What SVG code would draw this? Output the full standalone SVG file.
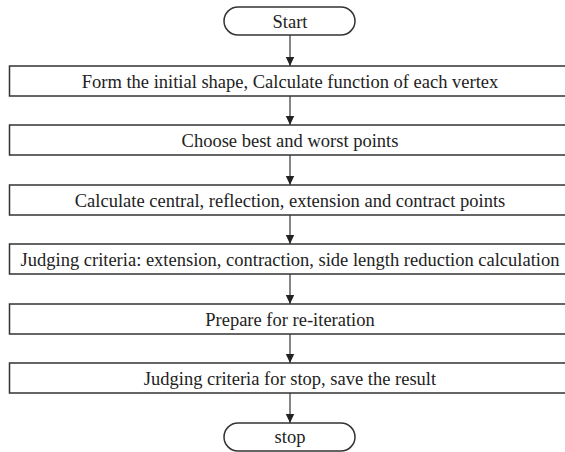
<svg xmlns="http://www.w3.org/2000/svg" width="565" height="452" viewBox="0 0 565 452">
<style>
.box{fill:#fff;stroke:#333;stroke-width:1.5}
.t{font-family:"Liberation Serif","Times New Roman",serif;font-size:18.5px;fill:#222;text-anchor:middle}
.c{stroke:#444;stroke-width:1.3;fill:none;marker-end:url(#ah)}
</style>
<defs>
<marker id="ah" markerWidth="10" markerHeight="10" refX="9" refY="5" orient="auto" markerUnits="userSpaceOnUse">
<path d="M0,0.8 L9,5 L0,9.2 Z" fill="#222"/>
</marker>
</defs>
<rect width="565" height="452" fill="#fff"/>
<g id="connectors">
<line class="c" x1="290" y1="35" x2="290" y2="66"/>
<line class="c" x1="290" y1="96" x2="290" y2="125"/>
<line class="c" x1="290" y1="155" x2="290" y2="185"/>
<line class="c" x1="290" y1="215" x2="290" y2="244"/>
<line class="c" x1="290" y1="274" x2="290" y2="304"/>
<line class="c" x1="290" y1="334" x2="290" y2="363"/>
<line class="c" x1="290" y1="393" x2="290" y2="423"/>
</g>
<g id="start">
<rect class="box" x="224" y="7" width="131" height="28" rx="14"/>
<text class="t" x="290" y="27.5">Start</text>
</g>
<g id="step1">
<rect class="box" x="9.5" y="66" width="561" height="30"/>
<text class="t" x="290" y="88">Form the initial shape, Calculate function of each vertex</text>
</g>
<g id="step2">
<rect class="box" x="9.5" y="125" width="561" height="30"/>
<text class="t" x="290" y="147">Choose best and worst points</text>
</g>
<g id="step3">
<rect class="box" x="9.5" y="185" width="561" height="30"/>
<text class="t" x="290" y="207">Calculate central, reflection, extension and contract points</text>
</g>
<g id="step4">
<rect class="box" x="9.5" y="244" width="561" height="30"/>
<text class="t" x="290" y="266">Judging criteria: extension, contraction, side length reduction calculation</text>
</g>
<g id="step5">
<rect class="box" x="9.5" y="304" width="561" height="30"/>
<text class="t" x="290" y="326">Prepare for re-iteration</text>
</g>
<g id="step6">
<rect class="box" x="9.5" y="363" width="561" height="30"/>
<text class="t" x="290" y="385">Judging criteria for stop, save the result</text>
</g>
<g id="stop">
<rect class="box" x="224" y="423" width="131" height="28" rx="14"/>
<text class="t" x="290" y="443">stop</text>
</g>
</svg>
